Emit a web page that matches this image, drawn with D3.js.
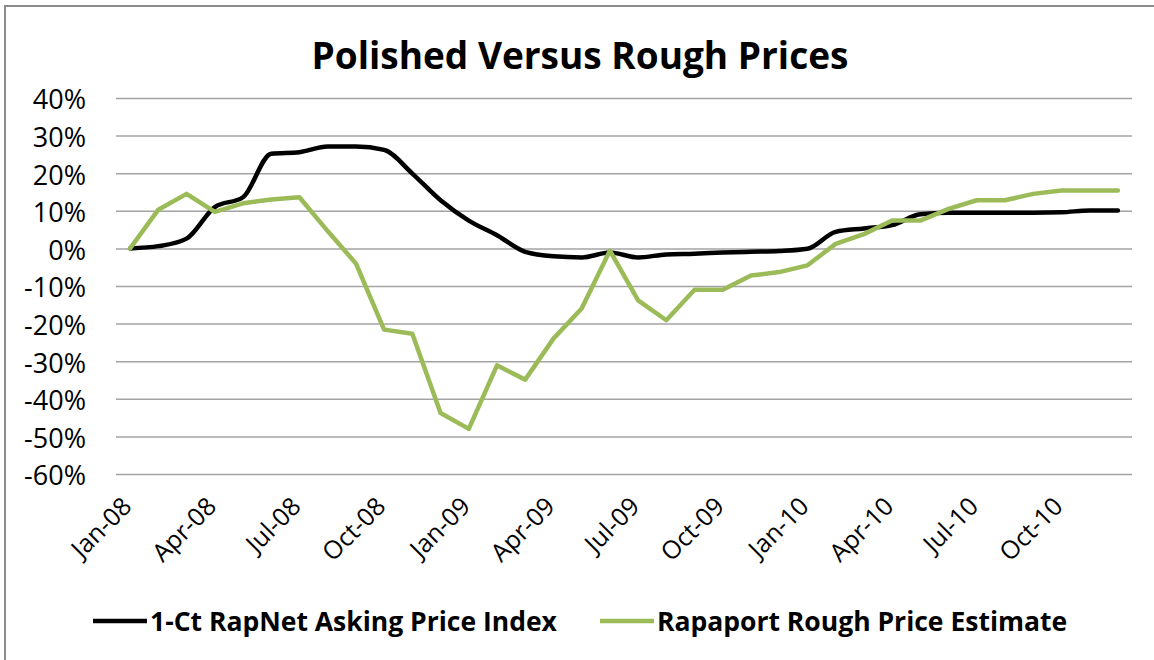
<!DOCTYPE html>
<html>
<head>
<meta charset="utf-8">
<script src="https://cdn.jsdelivr.net/npm/d3@7"></script>
<style>
    html, body { margin: 0; padding: 0; background: #fff; }
    svg { display: block; font-family: "Open Sans", sans-serif; }
</style>
</head>
<body>
<svg id="chart" width="1154" height="660"></svg>
<script>
const months = [
    "Jan-08", "Feb-08", "Mar-08", "Apr-08", "May-08", "Jun-08", "Jul-08", "Aug-08", "Sep-08", "Oct-08", "Nov-08", "Dec-08",
    "Jan-09", "Feb-09", "Mar-09", "Apr-09", "May-09", "Jun-09", "Jul-09", "Aug-09", "Sep-09", "Oct-09", "Nov-09", "Dec-09",
    "Jan-10", "Feb-10", "Mar-10", "Apr-10", "May-10", "Jun-10", "Jul-10", "Aug-10", "Sep-10", "Oct-10", "Nov-10", "Dec-10",
]
const tickLabels = ["Jan-08", "Apr-08", "Jul-08", "Oct-08", "Jan-09", "Apr-09", "Jul-09", "Oct-09", "Jan-10", "Apr-10", "Jul-10", "Oct-10"]
const yTicks = [0.4, 0.3, 0.2, 0.1, 0, -0.1, -0.2, -0.3, -0.4, -0.5, -0.6]

// percent change
const rapnetIndex = [
    0, 0.6, 2.6, 11, 13.6, 25.2, 25.6, 27.1, 27.1, 26.2, 19.9, 12.8,
    7.4, 3.5, -0.9, -2.1, -2.4, -1.1, -2.4, -1.6, -1.4, -1.1, -0.9, -0.7,
    -0.1, 4.4, 5.3, 6.2, 9.1, 9.5, 9.5, 9.5, 9.5, 9.6, 10.1, 10.1,
]
const roughEstimate = [
    0, 10.3, 14.5, 9.7, 12, 13, 13.6, 4.6, -4, -21.6, -22.7, -43.8,
    -48, -31.1, -34.9, -24, -16, -0.6, -13.8, -19.1, -11, -11, -7.2, -6.3,
    -4.5, 1.2, 3.8, 7.4, 7.4, 10.5, 12.8, 12.8, 14.5, 15.4, 15.4, 15.4,
]

const seriesList = [
    { name: "1-Ct RapNet Asking Price Index", values: rapnetIndex, colour: "#000000" },
    { name: "Rapaport Rough Price Estimate", values: roughEstimate, colour: "#9bbb59" },
]

const svg = d3.select("#chart")

// outer chart frame (only left and top edges sit in view)
svg.append("rect")
    .attr("x", 5)
    .attr("y", 6)
    .attr("width", 1160)
    .attr("height", 670)
    .attr("fill", "#fff")
    .attr("stroke", "#8c8c8c")
    .attr("stroke-width", 2)

const plot = { left: 116, right: 1132, top: 98, bottom: 474 }

const x = d3.scaleBand().domain(months).range([plot.left, plot.right])
const xc = (m) => x(m) + x.bandwidth() / 2
const y = d3.scaleLinear().domain([-0.6, 0.4]).range([plot.bottom, plot.top])

// plain hyphen for negatives, like the original
const pct = d3.formatLocale({ decimal: ".", thousands: ",", grouping: [3], currency: ["", ""], minus: "-" }).format(".0%")

svg.append("text")
    .attr("x", 580)
    .attr("y", 69)
    .attr("text-anchor", "middle")
    .attr("font-size", 37)
    .attr("font-weight", "bold")
    .attr("fill", "#000")
    .text("Polished Versus Rough Prices")

// gridlines + y labels
const yAxis = svg.append("g")
    .attr("transform", `translate(${plot.left}, 0)`)
    .call(d3.axisLeft(y).tickValues(yTicks).tickFormat(pct).tickSize(-(plot.right - plot.left)).tickPadding(30))
yAxis.select(".domain").remove()
yAxis.selectAll(".tick line").attr("stroke", "#a3a3a3").attr("stroke-width", 1.5)
yAxis.selectAll(".tick text")
    .attr("font-family", "Open Sans, sans-serif")
    .attr("font-size", 27)
    .attr("fill", "#000")
    .attr("dy", "0.4em")

// x labels, rotated
svg.append("g")
    .selectAll("text")
    .data(tickLabels)
    .join("text")
    .attr("transform", (d) => `translate(${xc(d) + 3}, 508) rotate(-45)`)
    .attr("text-anchor", "end")
    .attr("font-size", 25)
    .attr("fill", "#000")
    .text((d) => d)

const line = d3.line()
    .x((d, i) => xc(months[i]))
    .y((d) => y(d / 100))

svg.append("path")
    .datum(rapnetIndex)
    .attr("fill", "none")
    .attr("stroke", seriesList[0].colour)
    .attr("stroke-width", 4.5)
    .attr("stroke-linejoin", "round")
    .attr("stroke-linecap", "round")
    .attr("d", line.curve(d3.curveMonotoneX))

svg.append("path")
    .datum(roughEstimate)
    .attr("fill", "none")
    .attr("stroke", seriesList[1].colour)
    .attr("stroke-width", 4.5)
    .attr("stroke-linejoin", "round")
    .attr("stroke-linecap", "round")
    .attr("d", line.curve(d3.curveLinear))

// legend
const legendX = [93, 600]
const legend = svg.append("g")
    .selectAll("g")
    .data(seriesList)
    .join("g")
    .attr("transform", (d, i) => `translate(${legendX[i]}, 621)`)

legend.append("line")
    .attr("x1", 0)
    .attr("x2", 54)
    .attr("stroke", (d) => d.colour)
    .attr("stroke-width", 4.5)

legend.append("text")
    .attr("x", 57)
    .attr("dy", "0.36em")
    .attr("font-size", 26.5)
    .attr("font-weight", "bold")
    .attr("fill", "#000")
    .text((d) => d.name)
</script>
</body>
</html>
